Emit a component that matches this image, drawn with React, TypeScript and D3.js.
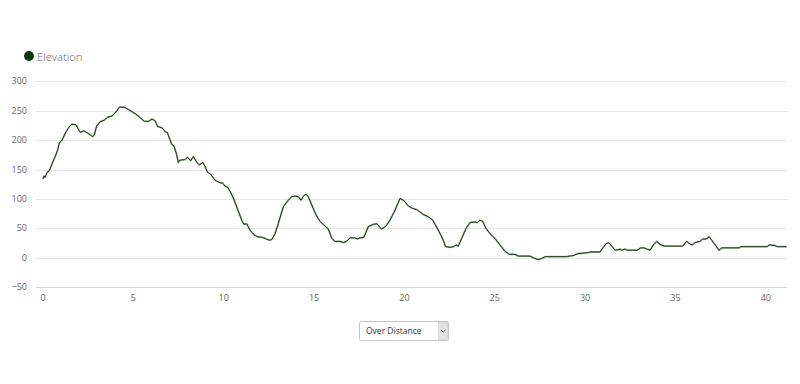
import React from "react";
import * as d3 from "d3";

const distanceKm = [
  0, 0.05, 0.12, 0.22, 0.35, 0.5, 0.66, 0.81, 0.9, 1.05, 1.27, 1.46, 1.59, 1.83, 1.97, 2.07, 2.25, 2.47, 2.75, 2.84, 2.97,
  3.15, 3.39, 3.58, 3.82, 4.04, 4.22, 4.5, 4.78, 5.15, 5.42, 5.61, 5.85, 6.03, 6.2, 6.35, 6.59, 6.77, 6.88,
  7.12, 7.25, 7.4, 7.49, 7.58, 7.86, 7.99, 8.17, 8.32, 8.5, 8.65, 8.84, 8.96, 9.09, 9.28, 9.52, 9.76, 9.94,
  10.07, 10.22, 10.39, 10.57, 10.75, 11.0, 11.12, 11.27, 11.46, 11.68, 11.86, 12.1, 12.29, 12.52, 12.66, 12.84,
  13.02, 13.21, 13.3, 13.49, 13.76, 13.95, 14.13, 14.28, 14.41, 14.55, 14.68, 14.87, 15.11, 15.33, 15.61, 15.79,
  15.98, 16.16, 16.44, 16.62, 16.8, 16.99, 17.27, 17.39, 17.54, 17.76, 18.0, 18.28, 18.47, 18.74, 18.98, 19.2,
  19.48, 19.76, 19.98, 20.22, 20.46, 20.68, 20.86, 21.08, 21.32, 21.57, 21.79, 22.01, 22.15, 22.28, 22.52, 22.71,
  22.86, 22.98, 23.17, 23.41, 23.63, 23.85, 24.04, 24.18, 24.33, 24.52, 24.74, 25.01, 25.29, 25.57, 25.8, 26.12,
  26.31, 26.95, 27.23, 27.41, 27.6, 27.78, 28.98, 29.12, 29.35, 29.57, 30.18, 30.27, 30.82, 31.01, 31.16, 31.29,
  31.42, 31.66, 31.84, 31.93, 32.03, 32.21, 32.34, 32.89, 33.08, 33.26, 33.41, 33.59, 33.78, 33.97, 34.15, 34.37,
  35.4, 35.62, 35.84, 35.95, 36.08, 36.36, 36.51, 36.69, 36.87, 37.13, 37.41, 37.56, 38.53, 38.61, 40.08, 40.19,
  40.5, 40.63, 41.15,
];

const elevationM = [
  134, 139, 137, 145, 148, 160, 171, 183, 195, 200, 214, 223, 227, 226, 218, 213, 216, 212, 206, 209, 224,
  231, 234, 239, 241, 248, 256, 256, 251, 244, 237, 232, 232, 236, 233, 223, 221, 214, 213,
  193, 190, 175, 162, 166, 167, 171, 165, 172, 163, 158, 162, 156, 146, 142, 132, 128, 127,
  122, 120, 111, 99, 84, 64, 57, 58, 47, 39, 36, 35, 33, 30, 31, 41,
  58, 78, 87, 95, 104, 105, 104, 98, 105, 108, 104, 90, 73, 62, 54, 49,
  33, 28, 28, 26, 28, 34, 34, 32, 34, 35, 53, 57, 58, 49, 54, 64,
  81, 101, 97, 88, 84, 82, 78, 73, 70, 64, 52, 39, 30, 19, 18, 19,
  22, 20, 33, 50, 60, 61, 60, 64, 62, 50, 41, 33, 22, 11, 6, 6,
  3, 3, -1, -3, -1, 2, 2, 3, 4, 7, 9, 10, 10, 18, 24, 26,
  22, 13, 14, 15, 13, 15, 13, 13, 17, 17, 15, 13, 22, 28, 23, 20,
  20, 28, 23, 22, 26, 28, 32, 32, 36, 25, 13, 17, 17, 19, 19, 22,
  21, 19, 19,
];

const yTicks = [-50, 0, 50, 100, 150, 200, 250, 300];
const xTicks = [0, 5, 10, 15, 20, 25, 30, 35, 40];
const seriesName = "Elevation";
const selectLabel = "Over Distance";

export default function App() {
  const W = 800;
  const H = 384;
  const plotLeft = 36;
  const plotRight = 787;
  const x = d3.scaleLinear().domain([0, 40]).range([43, 765.8]);
  const y = d3.scaleLinear().domain([-50, 300]).range([287.3, 81.3]);
  const pts = distanceKm.map((d, i) => [d, elevationM[i]] as [number, number]);
  const line = d3
    .line<[number, number]>()
    .x((p) => x(p[0]))
    .y((p) => y(p[1]));
  const font = "'Open Sans', 'Noto Sans', sans-serif";

  return (
    <svg
      width={W}
      height={H}
      style={{ position: "absolute", left: 0, top: 0, background: "#fff" }}
      fontFamily={font}
    >
      <rect x={0} y={0} width={W} height={H} fill="#fff" />
      {/* legend */}
      <circle cx={29} cy={56} r={5} fill="#0c3a0c" />
      <text x={37} y={60.5} fontSize={11.2} fill="#666" fontWeight={300}>
        {seriesName}
      </text>
      {/* grid */}
      {yTicks.map((t) => (
        <g key={t}>
          <line
            x1={plotLeft}
            x2={plotRight}
            y1={Math.round(y(t)) + 0.5}
            y2={Math.round(y(t)) + 0.5}
            stroke={t === -50 ? "#ccd6eb" : "#e6e6e6"}
            strokeWidth={1}
          />
          <text x={27} y={y(t) + 3} fontSize={9} fill="#666" textAnchor="end">
            {t < 0 ? "−" + Math.abs(t) : t}
          </text>
        </g>
      ))}
      {xTicks.map((t) => (
        <text key={t} x={x(t)} y={301} fontSize={9} fill="#666" textAnchor="middle">
          {t}
        </text>
      ))}
      {/* series */}
      <path d={line(pts) || ""} fill="none" stroke="#2f6b1f" strokeWidth={1.8} opacity={0.45} strokeLinejoin="round" />
      <path d={line(pts) || ""} fill="none" stroke="#0f240b" strokeWidth={0.9} strokeLinejoin="round" />
      {/* dropdown */}
      <rect x={359.5} y={321.5} width={89} height={19} rx={2} fill="#fff" stroke="#c4c4c4" />
      <rect x={438.5} y={322} width={9.5} height={18} fill="#e2e2e2" stroke="#c4c4c4" strokeWidth={0.5} />
      <path d="M441 330 L443.2 332.2 L445.4 330" fill="none" stroke="#555" strokeWidth={0.9} />
      <text x={366} y={334} fontSize={8.5} fill="#333">
        {selectLabel}
      </text>
    </svg>
  );
}
